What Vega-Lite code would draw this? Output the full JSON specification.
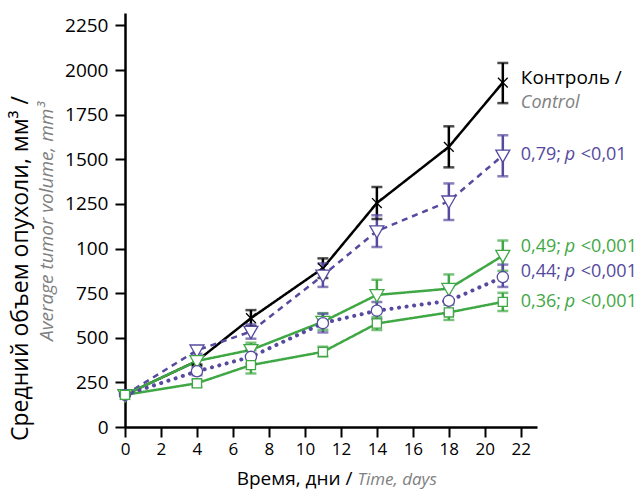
{
  "$schema": "https://vega.github.io/schema/vega-lite/v6.json",
  "width": 412,
  "height": 414,
  "autosize": {"type": "none"},
  "padding": {"left": 125, "top": 13, "right": 104, "bottom": 69},
  "config": {
    "font": "Open Sans",
    "view": {"stroke": null},
    "axis": {"grid": false, "titleFontWeight": "normal", "labelColor": "black", "titleColor": "black", "labelOverlap": false, "labelFlush": false},
    "axisX": {"labelOverlap": false, "labelFlush": false},
    "axisBottom": {"labelOverlap": false},
    "axisQuantitative": {"labelOverlap": false}
  },
  "data": {
    "values": [
      {"group": "control", "day": 0, "mean": 180, "lo": 180, "hi": 180},
      {"group": "control", "day": 4, "mean": 370, "lo": 350, "hi": 390},
      {"group": "control", "day": 7, "mean": 610, "lo": 565, "hi": 655},
      {"group": "control", "day": 11, "mean": 890, "lo": 835, "hi": 945},
      {"group": "control", "day": 14, "mean": 1255, "lo": 1165, "hi": 1345},
      {"group": "control", "day": 18, "mean": 1570, "lo": 1455, "hi": 1685},
      {"group": "control", "day": 21, "mean": 1930, "lo": 1815, "hi": 2040},
      {"group": "0.79", "day": 0, "mean": 180, "lo": 180, "hi": 180},
      {"group": "0.79", "day": 4, "mean": 430, "lo": 410, "hi": 450},
      {"group": "0.79", "day": 7, "mean": 535, "lo": 495, "hi": 575},
      {"group": "0.79", "day": 11, "mean": 850, "lo": 785, "hi": 917},
      {"group": "0.79", "day": 14, "mean": 1098, "lo": 1008, "hi": 1186},
      {"group": "0.79", "day": 18, "mean": 1265, "lo": 1160, "hi": 1365},
      {"group": "0.79", "day": 21, "mean": 1522, "lo": 1405, "hi": 1635},
      {"group": "0.49", "day": 0, "mean": 180, "lo": 180, "hi": 180},
      {"group": "0.49", "day": 4, "mean": 370, "lo": 345, "hi": 395},
      {"group": "0.49", "day": 7, "mean": 432, "lo": 395, "hi": 472},
      {"group": "0.49", "day": 11, "mean": 590, "lo": 545, "hi": 638},
      {"group": "0.49", "day": 14, "mean": 740, "lo": 660, "hi": 825},
      {"group": "0.49", "day": 18, "mean": 775, "lo": 695, "hi": 855},
      {"group": "0.49", "day": 21, "mean": 960, "lo": 875, "hi": 1045},
      {"group": "0.44", "day": 0, "mean": 180, "lo": 180, "hi": 180},
      {"group": "0.44", "day": 4, "mean": 312, "lo": 290, "hi": 335},
      {"group": "0.44", "day": 7, "mean": 393, "lo": 355, "hi": 430},
      {"group": "0.44", "day": 11, "mean": 582, "lo": 530, "hi": 635},
      {"group": "0.44", "day": 14, "mean": 652, "lo": 605, "hi": 700},
      {"group": "0.44", "day": 18, "mean": 707, "lo": 630, "hi": 783},
      {"group": "0.44", "day": 21, "mean": 840, "lo": 785, "hi": 910},
      {"group": "0.36", "day": 0, "mean": 180, "lo": 180, "hi": 180},
      {"group": "0.36", "day": 4, "mean": 245, "lo": 225, "hi": 265},
      {"group": "0.36", "day": 7, "mean": 347, "lo": 300, "hi": 390},
      {"group": "0.36", "day": 11, "mean": 421, "lo": 395, "hi": 450},
      {"group": "0.36", "day": 14, "mean": 580, "lo": 543, "hi": 617},
      {"group": "0.36", "day": 18, "mean": 642, "lo": 600, "hi": 685},
      {"group": "0.36", "day": 21, "mean": 701, "lo": 650, "hi": 752}
    ]
  },
  "resolve": {"axis": {"x": "independent", "y": "independent"}},
  "layer": [
    {
      "layer": [
        {
          "transform": [{"filter": "datum.group !== '0.44'"}],
          "mark": {"type": "line", "strokeWidth": 2.5, "strokeCap": "butt", "strokeJoin": "round"},
          "encoding": {
            "x": {
              "field": "day", "type": "quantitative",
              "scale": {"domain": [0, 22.9], "nice": false, "zero": false},
              "axis": {
                "values": [0, 2, 4, 6, 8, 10, 12, 14, 16, 18, 20, 22],
                "tickCount": 12, "labelExpr": "datum.label",
                "labelOverlap": false, "labelFlush": false, "labelSeparation": 0, "labelBound": false,
                "labelFontSize": 17, "labelPadding": 4, "tickSize": 10, "tickWidth": 2,
                "tickColor": "black", "domainColor": "black", "domainWidth": 2.5,
                "title": "Время, дни /", "titleFontSize": 19, "titleAlign": "right",
                "titleBaseline": "alphabetic", "titleX": 227, "titleY": 57
              }
            },
            "y": {
              "field": "mean", "type": "quantitative",
              "scale": {"domain": [0, 2320], "nice": false},
              "axis": {
                "values": [0, 250, 500, 750, 1000, 1250, 1500, 1750, 2000, 2250],
                "format": "d", "labelExpr": "datum.value === 1000 ? '100' : datum.label",
                "labelFontSize": 19, "labelPadding": 7, "tickSize": 10, "tickWidth": 2,
                "tickColor": "black", "domainColor": "black", "domainWidth": 2.5,
                "title": "Средний объем опухоли, мм³ /", "titleFontSize": 23,
                "titleAlign": "center", "titleBaseline": "alphabetic", "titleAngle": -90,
                "titleX": -98, "titleY": 255
              }
            },
            "color": {
              "field": "group", "type": "nominal", "legend": null,
              "scale": {"domain": ["control", "0.79", "0.49", "0.44", "0.36"],
                        "range": ["#000000", "#554a9e", "#3fa845", "#554a9e", "#3fa845"]}
            },
            "strokeDash": {
              "field": "group", "type": "nominal", "legend": null,
              "scale": {"domain": ["control", "0.79", "0.49", "0.36"],
                        "range": [[1, 0], [6, 5], [1, 0], [1, 0]]}
            }
          }
        },
        {
          "transform": [{"filter": "datum.group === '0.44'"}],
          "mark": {"type": "line", "strokeWidth": 4, "strokeCap": "round", "strokeDash": [0.1, 7.5]},
          "encoding": {
            "x": {"field": "day", "type": "quantitative"},
            "y": {"field": "mean", "type": "quantitative"},
            "color": {"field": "group", "type": "nominal", "legend": null}
          }
        },
        {
          "transform": [{"filter": "datum.day > 0"}],
          "mark": {"type": "rule", "strokeWidth": 2.5},
          "encoding": {
            "x": {"field": "day", "type": "quantitative"},
            "y": {"field": "lo", "type": "quantitative"},
            "y2": {"field": "hi"},
            "color": {"field": "group", "type": "nominal", "legend": null}
          }
        },
        {
          "transform": [{"filter": "datum.day > 0"}],
          "mark": {"type": "tick", "orient": "horizontal", "size": 11, "thickness": 2.5},
          "encoding": {
            "x": {"field": "day", "type": "quantitative"},
            "y": {"field": "lo", "type": "quantitative"},
            "color": {"field": "group", "type": "nominal", "legend": null}
          }
        },
        {
          "transform": [{"filter": "datum.day > 0"}],
          "mark": {"type": "tick", "orient": "horizontal", "size": 11, "thickness": 2.5},
          "encoding": {
            "x": {"field": "day", "type": "quantitative"},
            "y": {"field": "hi", "type": "quantitative"},
            "color": {"field": "group", "type": "nominal", "legend": null}
          }
        },
        {
          "mark": {"type": "point", "fill": "white", "filled": false, "size": 196, "strokeWidth": 1.3, "opacity": 1, "fillOpacity": 1},
          "encoding": {
            "x": {"field": "day", "type": "quantitative"},
            "y": {"field": "mean", "type": "quantitative"},
            "stroke": {
              "field": "group", "type": "nominal", "legend": null,
              "scale": {"domain": ["control", "0.79", "0.49", "0.44", "0.36"],
                        "range": ["#000000", "#554a9e", "#3fa845", "#554a9e", "#3fa845"]}
            },
            "shape": {
              "field": "group", "type": "nominal", "legend": null,
              "scale": {"domain": ["control", "0.79", "0.49", "0.44", "0.36"],
                        "range": ["M-0.7,-0.7L0.7,0.7M-0.7,0.7L0.7,-0.7",
                                  "M-1,-0.75L1,-0.75L0,1Z",
                                  "M-1,-0.75L1,-0.75L0,1Z",
                                  "M-0.8,0A0.8,0.8,0,1,0,0.8,0A0.8,0.8,0,1,0,-0.8,0Z",
                                  "M-0.65,-0.65L0.65,-0.65L0.65,0.65L-0.65,0.65Z"]}
            }
          }
        },
        {
          "transform": [{"filter": "datum.group === 'control' && datum.day === 21"}],
          "mark": {"type": "text", "align": "left", "baseline": "alphabetic", "dx": 18, "dy": 1, "fontSize": 19, "color": "black", "text": "Контроль /"},
          "encoding": {"x": {"field": "day", "type": "quantitative"}, "y": {"field": "mean", "type": "quantitative"}}
        },
        {
          "transform": [{"filter": "datum.group === 'control' && datum.day === 21"}],
          "mark": {"type": "text", "align": "left", "baseline": "alphabetic", "dx": 18, "dy": 25, "fontSize": 18, "fontStyle": "italic", "color": "#808080", "text": "Control"},
          "encoding": {"x": {"field": "day", "type": "quantitative"}, "y": {"field": "mean", "type": "quantitative"}}
        },
        {
          "transform": [{"filter": "datum.group === '0.79' && datum.day === 21"}],
          "mark": {"type": "text", "align": "left", "baseline": "alphabetic", "dx": 18, "dy": 5, "fontSize": 18, "color": "#554a9e", "text": "0,79;"},
          "encoding": {"x": {"field": "day", "type": "quantitative"}, "y": {"field": "mean", "type": "quantitative"}}
        },
        {
          "transform": [{"filter": "datum.group === '0.79' && datum.day === 21"}],
          "mark": {"type": "text", "align": "left", "baseline": "alphabetic", "dx": 62, "dy": 5, "fontSize": 18, "fontStyle": "italic", "color": "#554a9e", "text": "p"},
          "encoding": {"x": {"field": "day", "type": "quantitative"}, "y": {"field": "mean", "type": "quantitative"}}
        },
        {
          "transform": [{"filter": "datum.group === '0.79' && datum.day === 21"}],
          "mark": {"type": "text", "align": "left", "baseline": "alphabetic", "dx": 78, "dy": 5, "fontSize": 18, "color": "#554a9e", "text": "<0,01"},
          "encoding": {"x": {"field": "day", "type": "quantitative"}, "y": {"field": "mean", "type": "quantitative"}}
        },
        {
          "transform": [{"filter": "datum.group === '0.49' && datum.day === 21"}],
          "mark": {"type": "text", "align": "left", "baseline": "alphabetic", "dx": 18, "dy": -4, "fontSize": 18, "color": "#3fa845", "text": "0,49;"},
          "encoding": {"x": {"field": "day", "type": "quantitative"}, "y": {"field": "mean", "type": "quantitative"}}
        },
        {
          "transform": [{"filter": "datum.group === '0.49' && datum.day === 21"}],
          "mark": {"type": "text", "align": "left", "baseline": "alphabetic", "dx": 62, "dy": -4, "fontSize": 18, "fontStyle": "italic", "color": "#3fa845", "text": "p"},
          "encoding": {"x": {"field": "day", "type": "quantitative"}, "y": {"field": "mean", "type": "quantitative"}}
        },
        {
          "transform": [{"filter": "datum.group === '0.49' && datum.day === 21"}],
          "mark": {"type": "text", "align": "left", "baseline": "alphabetic", "dx": 78, "dy": -4, "fontSize": 18, "color": "#3fa845", "text": "<0,001"},
          "encoding": {"x": {"field": "day", "type": "quantitative"}, "y": {"field": "mean", "type": "quantitative"}}
        },
        {
          "transform": [{"filter": "datum.group === '0.44' && datum.day === 21"}],
          "mark": {"type": "text", "align": "left", "baseline": "alphabetic", "dx": 18, "dy": 0, "fontSize": 18, "color": "#554a9e", "text": "0,44;"},
          "encoding": {"x": {"field": "day", "type": "quantitative"}, "y": {"field": "mean", "type": "quantitative"}}
        },
        {
          "transform": [{"filter": "datum.group === '0.44' && datum.day === 21"}],
          "mark": {"type": "text", "align": "left", "baseline": "alphabetic", "dx": 62, "dy": 0, "fontSize": 18, "fontStyle": "italic", "color": "#554a9e", "text": "p"},
          "encoding": {"x": {"field": "day", "type": "quantitative"}, "y": {"field": "mean", "type": "quantitative"}}
        },
        {
          "transform": [{"filter": "datum.group === '0.44' && datum.day === 21"}],
          "mark": {"type": "text", "align": "left", "baseline": "alphabetic", "dx": 78, "dy": 0, "fontSize": 18, "color": "#554a9e", "text": "<0,001"},
          "encoding": {"x": {"field": "day", "type": "quantitative"}, "y": {"field": "mean", "type": "quantitative"}}
        },
        {
          "transform": [{"filter": "datum.group === '0.36' && datum.day === 21"}],
          "mark": {"type": "text", "align": "left", "baseline": "alphabetic", "dx": 18, "dy": 5, "fontSize": 18, "color": "#3fa845", "text": "0,36;"},
          "encoding": {"x": {"field": "day", "type": "quantitative"}, "y": {"field": "mean", "type": "quantitative"}}
        },
        {
          "transform": [{"filter": "datum.group === '0.36' && datum.day === 21"}],
          "mark": {"type": "text", "align": "left", "baseline": "alphabetic", "dx": 62, "dy": 5, "fontSize": 18, "fontStyle": "italic", "color": "#3fa845", "text": "p"},
          "encoding": {"x": {"field": "day", "type": "quantitative"}, "y": {"field": "mean", "type": "quantitative"}}
        },
        {
          "transform": [{"filter": "datum.group === '0.36' && datum.day === 21"}],
          "mark": {"type": "text", "align": "left", "baseline": "alphabetic", "dx": 78, "dy": 5, "fontSize": 18, "color": "#3fa845", "text": "<0,001"},
          "encoding": {"x": {"field": "day", "type": "quantitative"}, "y": {"field": "mean", "type": "quantitative"}}
        }
      ]
    },
    {
      "mark": {"type": "point", "opacity": 0},
      "encoding": {
        "x": {
          "field": "day", "type": "quantitative",
          "axis": {
            "orient": "bottom", "labels": false, "ticks": false, "domain": false, "labelOverlap": false,
            "title": "Time, days", "titleFontSize": 17, "titleFontStyle": "italic",
            "titleColor": "#808080", "titleAlign": "left", "titleBaseline": "alphabetic",
            "titleX": 232, "titleY": 57
          }
        },
        "y": {
          "field": "mean", "type": "quantitative",
          "axis": {
            "orient": "left", "labels": false, "ticks": false, "domain": false,
            "title": "Average tumor volume, mm³", "titleFontSize": 19, "titleFontStyle": "italic",
            "titleColor": "#808080", "titleAlign": "center", "titleBaseline": "alphabetic",
            "titleAngle": -90, "titleX": -73, "titleY": 208
          }
        }
      }
    }
  ]
}
